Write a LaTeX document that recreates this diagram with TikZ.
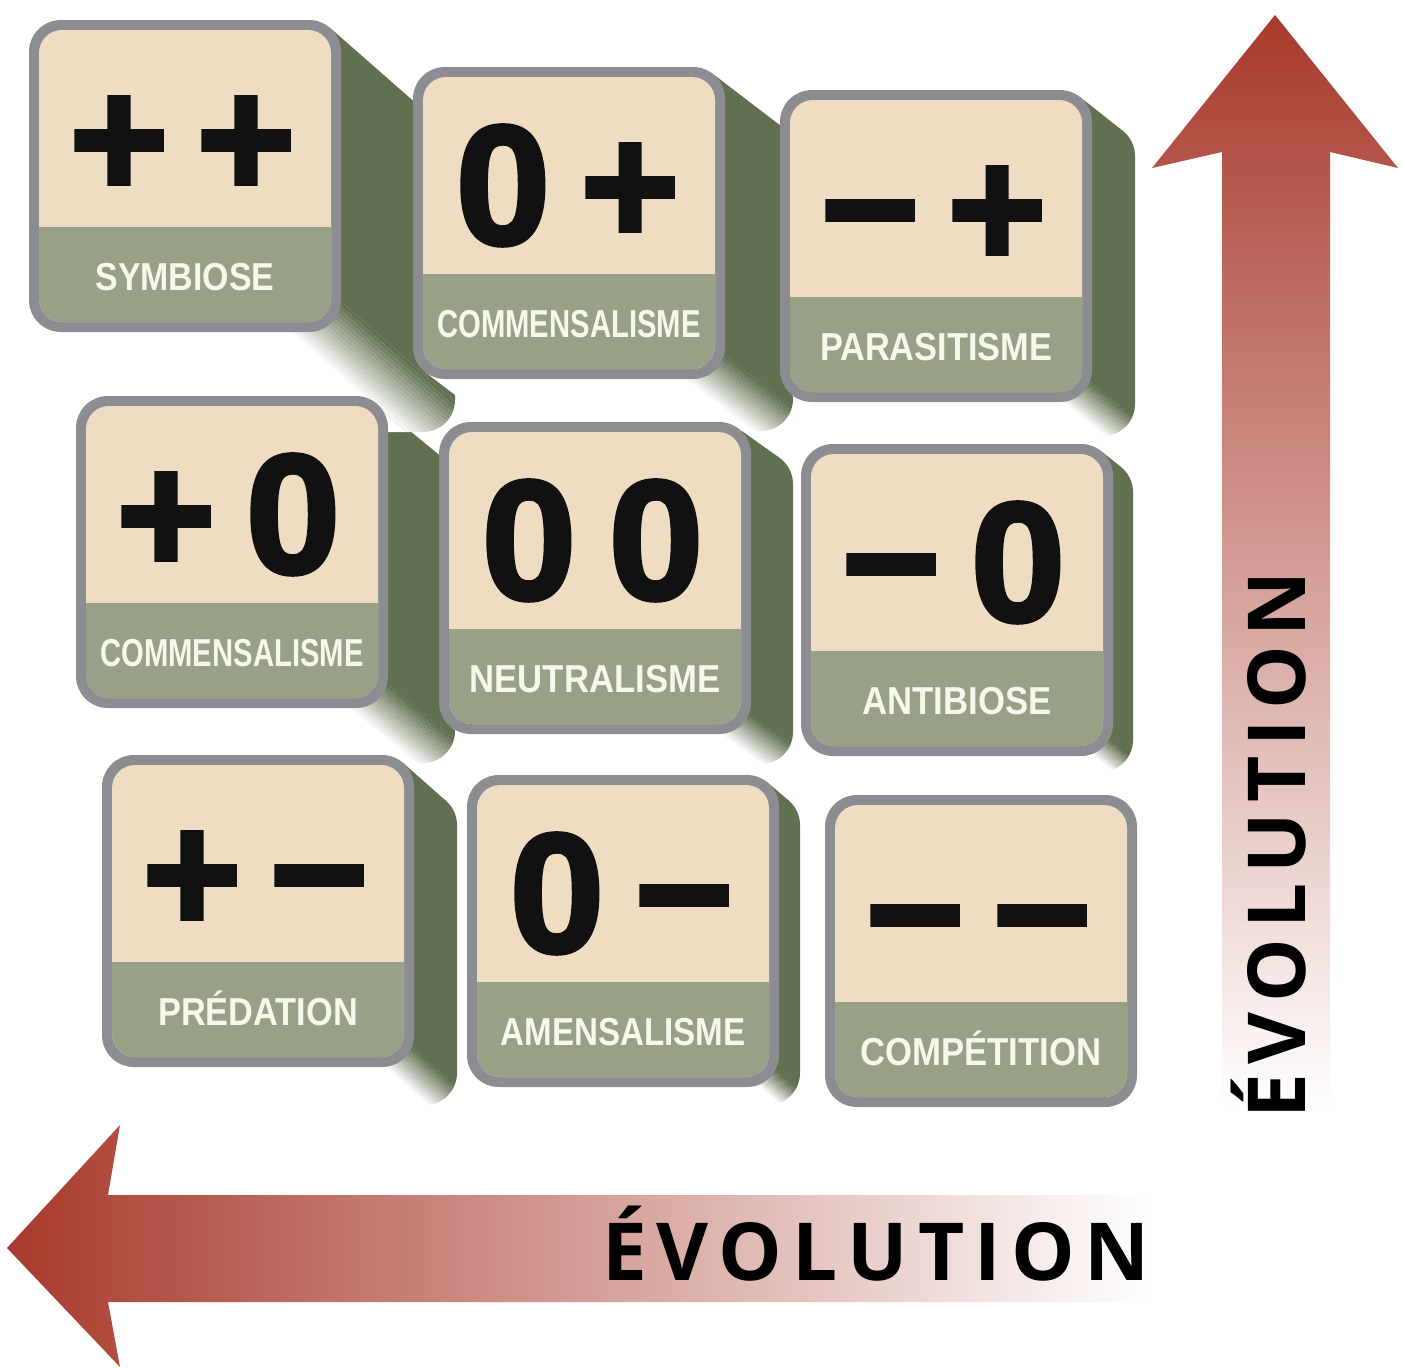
\documentclass[tikz,border=0pt]{standalone}
\usepackage{fontspec}
\usepackage{graphicx}
\setmainfont{Liberation Sans}
\newfontfamily\symfont{Liberation Sans}[FakeBold=2.5]
\newfontfamily\evofont{Open Sans}
\definecolor{beige}{HTML}{EFDDC3}
\definecolor{band}{HTML}{98A087}
\definecolor{rim}{HTML}{8C8D92}
\definecolor{side}{HTML}{627052}
\definecolor{labtxt}{HTML}{F6F8EC}
\definecolor{arrred}{HTML}{A83A2C}
\definecolor{arrmidv}{HTML}{D7A894}
\definecolor{arrmidh}{HTML}{DDB6A3}
\definecolor{symcol}{HTML}{111111}
\tikzset{
  symtext/.style={inner sep=0pt, font=\symfont\fontsize{170}{170}\selectfont\bfseries, text=symcol},
  labtext/.style={inner sep=0pt, font=\fontsize{39}{39}\selectfont\bfseries, text=labtxt},
  evotext/.style={inner sep=0pt, font=\evofont\fontsize{80}{80}\selectfont\bfseries, text=black},
}
\newcommand\evoword{É\kern10pt V\kern10pt O\kern10pt L\kern10pt U\kern10pt T\kern10pt I\kern10pt O\kern10pt N}
% extrusion: x0 y0 dx dy W
\newcommand\extrude[5]{%
  \pgfmathsetmacro\ex{#1}\pgfmathsetmacro\ey{#2}%
  \pgfmathsetmacro\edx{#3}\pgfmathsetmacro\edy{#4}%
  \pgfmathsetmacro\eL{10*sqrt((\edx/10)*(\edx/10)+(\edy/10)*(\edy/10))}%
  \pgfmathsetmacro\ux{\edx/\eL}\pgfmathsetmacro\uy{\edy/\eL}%
  \pgfmathsetmacro\Px{\ex+312-32+22.6}\pgfmathsetmacro\Py{\ey+312-32+22.6}%
  \coordinate (T1) at (\ex+280+32*\uy, \ey+32-32*\ux);
  \coordinate (T2) at (\ex+32-32*\uy, \ey+280+32*\ux);
  \foreach \k in {1,2}{%
    \begin{scope}
      \ifnum\k=1
        \clip (T1) -- ++(\edx,\edy) -- ($(T2)+(\edx,\edy)$) -- (T2) -- cycle;
      \else
        \clip[rounded corners=32] (\ex+\edx,\ey+\edy) rectangle ++(312,312);
      \fi
      \foreach \i in {0,...,17}{%
        \pgfmathsetmacro\sa{\i==0 ? -600 : (-0.4*#5+(\i-1)*#5/16)}%
        \pgfmathsetmacro\sb{\i==17 ? 600 : (-0.4*#5+\i*#5/16)}%
        \pgfmathsetmacro\pc{\i==0 ? 100 : (100-(\i-1)*6.25)}%
        \pgfmathsetmacro\Ax{\Px-(\sa)*\uy-450*\ux}\pgfmathsetmacro\Ay{\Py+(\sa)*\ux-450*\uy}%
        \pgfmathsetmacro\Bx{\Px-(\sa)*\uy+(\eL+100)*\ux}\pgfmathsetmacro\By{\Py+(\sa)*\ux+(\eL+100)*\uy}%
        \pgfmathsetmacro\Cx{\Px-(\sb)*\uy+(\eL+100)*\ux}\pgfmathsetmacro\Cy{\Py+(\sb)*\ux+(\eL+100)*\uy}%
        \pgfmathsetmacro\Dx{\Px-(\sb)*\uy-450*\ux}\pgfmathsetmacro\Dy{\Py+(\sb)*\ux-450*\uy}%
        \fill[side!\pc!white] (\Ax,\Ay) -- (\Bx,\By) -- (\Cx,\Cy) -- (\Dx,\Dy) -- cycle;
      }
    \end{scope}
  }
}
% tile: name x0 y0 sym1 sym2 label xscale
\newcommand\tilebox[7]{%
  \fill[rim, rounded corners=32] (#2,#3) rectangle ++(312,312);
  \begin{scope}
    \clip[rounded corners=23] (#2+10,#3+10) rectangle ++(292,292);
    \fill[beige] (#2,#3) rectangle ++(312,312);
    \fill[band] (#2,#3+207) rectangle ++(312,105);
  \end{scope}
  \node[symtext, anchor=base] (#1-a) at (#2+90, #3+177) {#4};
  \node[symtext, anchor=base] (#1-b) at (#2+217, #3+177) {#5};
  \node[labtext, anchor=base] (#1-lab) at (#2+156, #3+270) {\scalebox{#7}[1]{#6}};
}
\usetikzlibrary{calc}
\begin{document}
\begin{tikzpicture}[x=1pt, y=-1pt]
\useasboundingbox (0,0) rectangle (1403,1368);
\fill[white] (0,0) rectangle (1403,1368);
% arrows
\shade[top color=arrred, middle color=arrmidv, bottom color=white]
  (1275,15) -- (1398,168) -- (1330,152) -- (1330,1110) -- (1222,1110) -- (1222,152) -- (1152,168) -- cycle;
\shade[left color=arrred, middle color=arrmidh, right color=white]
  (7,1248) -- (120,1125) -- (108,1195) -- (1150,1195) -- (1150,1302) -- (108,1302) -- (120,1367) -- cycle;
\node[evotext, anchor=base] (hevo) at (876,1280) {\evoword};
\node[evotext, anchor=base, rotate=90] (vevo) at (1305,845) {\evoword};
% extrusions (lower rows first)
\extrude{102}{755}{43}{38}{32}
\extrude{467}{775}{21}{18}{22}
\extrude{76}{396}{67}{55}{42}
\extrude{439}{422}{42}{30}{32}
\extrude{801}{444}{20}{16}{22}
\extrude{29}{20}{114}{100}{55}
\extrude{413}{67}{68}{52}{42}
\extrude{780}{90}{43}{34}{32}
% tiles
\tilebox{t1}{29}{20}{+}{+}{SYMBIOSE}{0.87}
\tilebox{t2}{413}{67}{0}{+}{COMMENSALISME}{0.75}
\tilebox{t3}{780}{90}{−}{+}{PARASITISME}{0.88}
\tilebox{t4}{76}{396}{+}{0}{COMMENSALISME}{0.75}
\tilebox{t5}{439}{422}{0}{0}{NEUTRALISME}{0.89}
\tilebox{t6}{801}{444}{−}{0}{ANTIBIOSE}{0.89}
\tilebox{t7}{102}{755}{+}{−}{PRÉDATION}{0.88}
\tilebox{t8}{467}{775}{0}{−}{AMENSALISME}{0.85}
\tilebox{t9}{825}{795}{−}{−}{COMPÉTITION}{0.89}
\end{tikzpicture}
\end{document}
